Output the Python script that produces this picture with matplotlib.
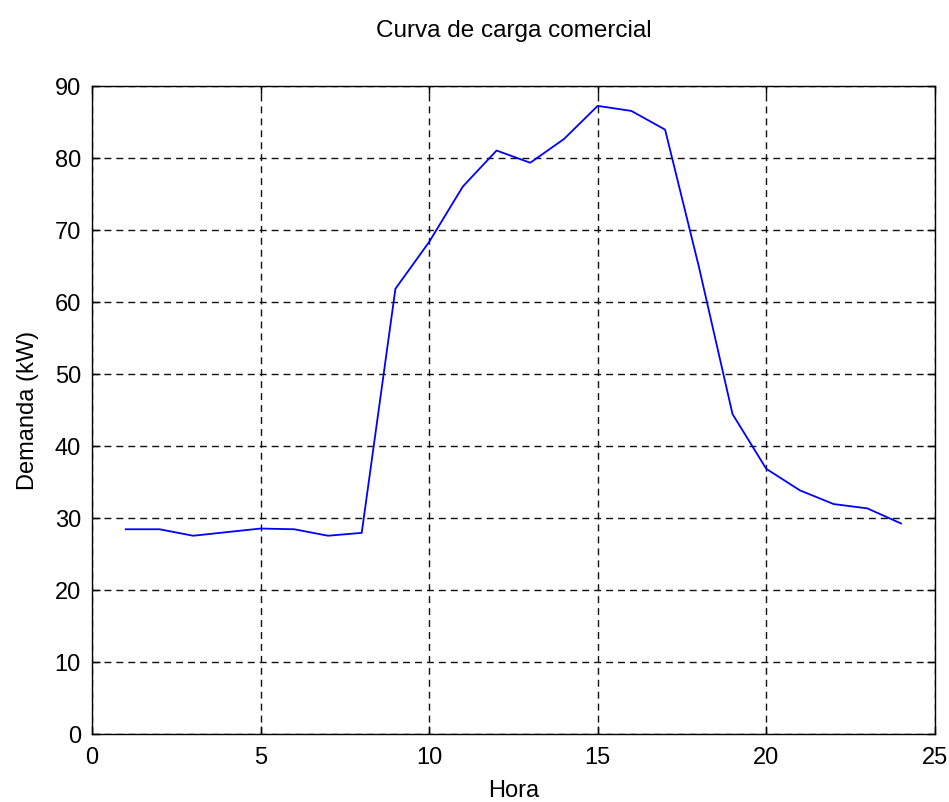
import matplotlib
matplotlib.use("Agg")
import matplotlib.pyplot as plt

# Hourly commercial load profile
hora = list(range(1, 25))
demanda = [28.4, 28.4, 27.5, 28.0, 28.5, 28.4, 27.5, 27.9,
           61.8, 68.3, 76.0, 81.0, 79.3, 82.6, 87.2, 86.5,
           83.9, 64.9, 44.4, 36.8, 33.8, 31.9, 31.3, 29.2]

x_ticks = [0, 5, 10, 15, 20, 25]
y_ticks = [0, 10, 20, 30, 40, 50, 60, 70, 80, 90]

plt.rcParams["font.family"] = ["Liberation Sans", "DejaVu Sans"]
FS = 17

fig = plt.figure(figsize=(9.49, 8.03), dpi=100)
ax = fig.add_axes([0.097, 0.085, 0.888, 0.807])

ax.plot(hora, demanda, color="#0000ff", lw=1.3)

ax.set_xlim(0, 25)
ax.set_ylim(0, 90)
ax.set_xticks(x_ticks)
ax.set_yticks(y_ticks)
ax.grid(True, color="#111111", ls=(0, (5, 3.6)), lw=1.0)
ax.tick_params(direction="in", length=6, width=1, top=True, right=True,
               labelsize=FS)
ax.tick_params(axis="x", pad=9)
ax.tick_params(axis="y", pad=8)
for sp in ax.spines.values():
    sp.set_linewidth(1.0)

ax.set_xlabel("Hora", fontsize=FS, labelpad=8)
ax.set_ylabel("Demanda (kW)", fontsize=FS, labelpad=11)
ax.set_title("Curva de carga comercial", fontsize=17.5, pad=36)

fig.savefig("out.png", dpi=100)
